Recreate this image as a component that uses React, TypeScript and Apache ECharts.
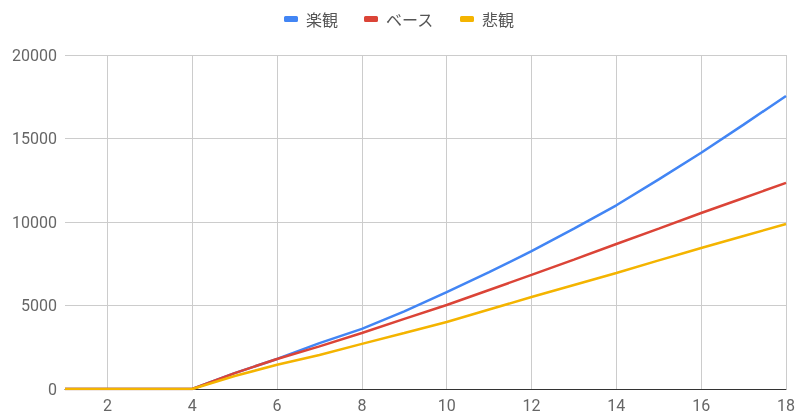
import React, { useEffect, useRef } from "react";
import * as echarts from "echarts";

const xValues = [1, 2, 3, 4, 5, 6, 7, 8, 9, 10, 11, 12, 13, 14, 15, 16, 17, 18];
const optimistic = [0, 0, 0, 0, 950, 1800, 2750, 3600, 4650, 5800, 7000, 8250, 9600, 11000, 12550, 14150, 15830, 17550];
const base = [0, 0, 0, 0, 950, 1800, 2550, 3350, 4200, 5030, 5930, 6830, 7750, 8680, 9600, 10540, 11440, 12340];
const pessimistic = [0, 0, 0, 0, 780, 1450, 2040, 2700, 3350, 4010, 4760, 5510, 6230, 6950, 7700, 8440, 9160, 9880];
const xTicks = [2, 4, 6, 8, 10, 12, 14, 16, 18];
const seriesNames = ["楽観", "ベース", "悲観"];
const colors = ["#4285F4", "#DB4437", "#F4B400"];

export default function App() {
  const ref = useRef<HTMLDivElement>(null);
  useEffect(() => {
    if (!ref.current) return;
    const chart = echarts.init(ref.current, undefined, { renderer: "svg" });
    const all = [optimistic, base, pessimistic];
    chart.setOption({
      animation: false,
      color: colors,
      textStyle: { fontFamily: "Roboto, 'Noto Sans CJK JP', sans-serif" },
      legend: {
        top: 6,
        left: "center",
        itemWidth: 14,
        itemHeight: 6,
        itemGap: 26,
        icon: "roundRect",
        textStyle: { fontSize: 16, color: "#555", padding: [0, 0, 0, 3], fontFamily: "'Noto Sans CJK JP', sans-serif" },
        data: seriesNames,
      },
      grid: { left: 65, right: 10, top: 55, bottom: 26 },
      xAxis: {
        type: "value",
        min: 1,
        max: 18,
        axisLine: { show: true, onZero: true, lineStyle: { color: "#333", width: 1 } },
        axisTick: { show: false, customValues: xTicks },
        axisLabel: { customValues: xTicks, fontSize: 16, color: "#666", margin: 8 },
        splitLine: { show: true, lineStyle: { color: "#ccc", width: 1 } },
      },
      yAxis: {
        type: "value",
        min: 0,
        max: 20000,
        interval: 5000,
        axisLine: { show: false },
        axisTick: { show: false },
        axisLabel: { fontSize: 16, color: "#666", margin: 8, formatter: (v: number) => String(v) },
        splitLine: { show: true, lineStyle: { color: "#ccc", width: 1 } },
      },
      series: seriesNames.map((name, i) => ({
        name,
        type: "line",
        showSymbol: false,
        symbol: "none",
        lineStyle: { width: 2.5, color: colors[i] },
        data: xValues.map((x, j) => [x, all[i][j]]),
      })),
    });
    return () => chart.dispose();
  }, []);
  return <div ref={ref} style={{ position: "fixed", left: 0, top: 0, width: 798, height: 415 }} />;
}
